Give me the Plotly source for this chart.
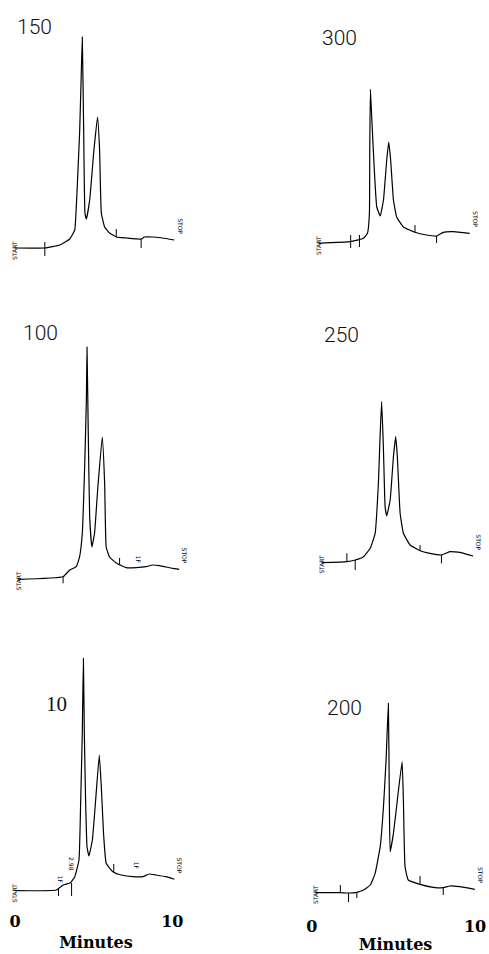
import plotly.graph_objects as go

# ---------------- data (time in minutes, detector signal in arbitrary units) ----------------
t_150 = [0.0, 1.9, 2.85, 3.48, 3.8, 3.92, 4.11, 4.2, 4.28, 4.37, 4.45, 4.54, 4.75, 5.02, 5.25, 5.38, 5.49, 5.7, 6.01, 6.44, 7.09, 8.02, 8.23, 8.73, 9.37, 10.13]
s_150 = [2, 2, 5, 11, 20, 50, 117, 167, 213, 117, 37, 31, 50, 100, 133, 100, 37, 23, 17, 13, 12, 11, 13, 13, 12, 10]

t_300 = [0.24, 2.18, 2.99, 3.23, 3.35, 3.37, 3.41, 3.49, 3.64, 3.8, 4.01, 4.21, 4.41, 4.53, 4.65, 4.82, 5.02, 5.43, 6.14, 6.85, 7.46, 7.87, 8.48, 9.49]
s_300 = [1.7, 3.3, 6.7, 11.7, 32, 95, 155.7, 128, 78, 38, 29, 45, 85, 103, 85, 45, 28, 18, 12.7, 10, 9, 12.7, 13.3, 11.7]

t_100 = [0.2, 3.06, 3.48, 3.9, 4.11, 4.28, 4.43, 4.54, 4.58, 4.66, 4.75, 4.89, 5.06, 5.27, 5.55, 5.7, 5.8, 6.01, 6.44, 7.07, 7.7, 8.34, 8.75, 9.18, 10.02, 10.44]
s_100 = [0.7, 3.3, 10, 13.3, 23.3, 46.7, 113, 180, 233, 147, 63, 33, 47, 93, 143, 97, 33, 23, 17, 12.3, 12.3, 13.3, 15, 14.3, 11.7, 10.7]

t_250 = [0.45, 1.97, 2.48, 2.99, 3.4, 3.7, 3.9, 4.01, 4.1, 4.21, 4.31, 4.41, 4.62, 4.82, 4.96, 5.06, 5.23, 5.43, 5.84, 6.45, 7.05, 7.76, 8.27, 8.88, 9.7]
s_250 = [1.3, 2.3, 4, 7.3, 15.7, 30.7, 80.7, 130.7, 162.3, 114, 57.3, 48, 64, 107.3, 127.3, 107.3, 50.7, 30.7, 19, 13.3, 10.7, 9, 12.3, 11.7, 8]

t_10 = [0.0, 2.64, 3.06, 3.53, 3.8, 4.07, 4.18, 4.28, 4.35, 4.41, 4.49, 4.58, 4.7, 4.92, 5.13, 5.36, 5.49, 5.63, 5.8, 6.22, 6.75, 7.49, 8.12, 8.54, 8.97, 9.6, 10.13]
s_10 = [1.3, 2, 7, 9.3, 15.3, 32, 92, 158.7, 233.7, 158.7, 92, 45.3, 36, 52, 92, 137, 105.3, 58.7, 28.7, 20.3, 17, 15.3, 15.3, 18, 17, 15.3, 12.7]

t_200 = [0.04, 1.57, 2.07, 2.58, 2.99, 3.4, 3.7, 4.01, 4.21, 4.37, 4.51, 4.57, 4.62, 4.82, 5.06, 5.35, 5.43, 5.53, 5.73, 6.45, 7.26, 7.87, 8.27, 8.88, 9.8]
s_200 = [1.3, 1.3, 1, 1.7, 4, 9, 20.7, 47.3, 87.3, 134, 190.7, 94, 42.3, 60.7, 94, 132.3, 94, 27.3, 14, 9.7, 6.7, 6.3, 8, 7.3, 4.7]

# integrator event marks: time, signal low, signal high
ev_150_t = [1.9, 6.44, 8.02]
ev_150_lo = [-6, 13, 2]
ev_150_hi = [8, 21, 11]
ev_300_t = [2.2, 2.74, 6.14, 7.46]
ev_300_lo = [-3, -2, 12.7, 2]
ev_300_hi = [10, 10, 20, 9]
ev_100_t = [3.06, 6.65]
ev_100_lo = [-3.3, 15]
ev_100_hi = [3.3, 22]
ev_250_t = [1.97, 2.48, 6.45, 7.76]
ev_250_lo = [2.3, -6, 13.3, 0.7]
ev_250_hi = [10.7, 4, 19, 9]
ev_10_t = [2.77, 3.6, 6.28]
ev_10_lo = [-4, -4, 20]
ev_10_hi = [4, 9, 28]
ev_200_t = [1.57, 2.07, 2.58, 6.45, 7.87]
ev_200_lo = [1.3, -8, -4, 9.7, -1]
ev_200_hi = [9, 1, 2, 18, 6.3]

panel_labels = ["150", "300", "100", "250", "10", "200"]
x_ticks = [0, 10]
x_tick_text = ["0", "10"]
x_title = "Minutes"

# ---------------- layout geometry (pixels in a 489 x 954 page) ----------------
W, H = 489, 954
panels = [
    # label, t, s, events, column, baseline y px, label x px, label y px, label font
    (panel_labels[0], t_150, s_150, (ev_150_t, ev_150_lo, ev_150_hi), 0, 250, 15, 27, "sans"),
    (panel_labels[1], t_300, s_300, (ev_300_t, ev_300_lo, ev_300_hi), 1, 245, 321, 38, "sans"),
    (panel_labels[2], t_100, s_100, (ev_100_t, ev_100_lo, ev_100_hi), 0, 580, 21, 333, "sans"),
    (panel_labels[3], t_250, s_250, (ev_250_t, ev_250_lo, ev_250_hi), 1, 564, 323, 335, "sans"),
    (panel_labels[4], t_10, s_10, (ev_10_t, ev_10_lo, ev_10_hi), 0, 892, 44, 704, "serif"),
    (panel_labels[5], t_200, s_200, (ev_200_t, ev_200_lo, ev_200_hi), 1, 894, 326, 708, "sans"),
]
# column: (px at t=0, px per minute)
cols = [(15, 15.8), (316, 16.4)]
x_rng = [(-0.5, 10.8), (-0.5, 10.4)]
tick_standoff = [6, 9]
tick_shift = [0, -3]
title_standoff = [6, 6]
y_lo, y_hi = -12, 240

fig = go.Figure()
layout = dict(
    width=W, height=H, margin=dict(l=0, r=0, t=0, b=0),
    paper_bgcolor="white", plot_bgcolor="white", showlegend=False,
)
annotations = []
small = dict(family="DejaVu Sans", size=6, color="black")

for i, (lab, t, s, ev, c, yb, lx, ly, lf) in enumerate(panels):
    n = i + 1
    xa = "x" if n == 1 else f"x{n}"
    ya = "y" if n == 1 else f"y{n}"
    x0, k = cols[c]
    r0, r1 = x_rng[c]
    dom_x = [(x0 + k * r0) / W, min(1.0, (x0 + k * r1) / W)]
    dom_y = [1 - (yb - y_lo) / H, 1 - (yb - y_hi) / H]
    bottom = n in (5, 6)
    layout["xaxis" if n == 1 else f"xaxis{n}"] = dict(
        domain=dom_x, range=[r0, r1], anchor=ya, showgrid=False, zeroline=False,
        showline=False, ticks="",
        showticklabels=bottom, tickvals=x_ticks, ticktext=x_tick_text,
        tickfont=dict(family="DejaVu Serif", size=16, color="black", weight="bold"),
        ticklabelstandoff=tick_standoff[c], ticklabelshift=tick_shift[c],
        title=dict(text=x_title if bottom else "", standoff=title_standoff[c],
                   font=dict(family="DejaVu Serif", size=16, color="black", weight="bold")),
    )
    layout["yaxis" if n == 1 else f"yaxis{n}"] = dict(
        domain=dom_y, range=[y_lo, y_hi], anchor=xa, showgrid=False, zeroline=False,
        showline=False, ticks="", showticklabels=False,
    )
    fig.add_trace(go.Scatter(x=t, y=s, mode="lines", xaxis=xa, yaxis=ya,
                             line=dict(color="black", width=1.2, shape="spline", smoothing=0.35),
                             cliponaxis=False, hoverinfo="skip"))
    et, elo, ehi = ev
    ex, ey = [], []
    for a, b, cc in zip(et, elo, ehi):
        ex += [a, a, None]
        ey += [b, cc, None]
    fig.add_trace(go.Scatter(x=ex, y=ey, mode="lines", xaxis=xa, yaxis=ya,
                             line=dict(color="black", width=1), cliponaxis=False,
                             hoverinfo="skip"))
    # START / STOP integrator marks
    annotations.append(dict(text="START", x=t[0], y=s[0] - 2, xref=xa, yref=ya, showarrow=False,
                            textangle=-90, xanchor="center", yanchor="middle", font=small))
    annotations.append(dict(text="STOP", x=t[-1], y=s[-1] + 4, xref=xa, yref=ya, showarrow=False,
                            textangle=90, xanchor="left", yanchor="bottom", font=small))
    # panel label
    fam = "Liberation Serif" if lf == "serif" else "Roboto"
    annotations.append(dict(text=lab, x=lx / W, y=1 - ly / H, xref="paper", yref="paper",
                            showarrow=False, xanchor="left", yanchor="middle",
                            font=dict(family=fam, size=21, color="#111", weight=300)))

# small integrator codes
annotations.append(dict(text="1F", x=7.91, y=20, xref="x3", yref="y3", showarrow=False,
                        textangle=90, font=small))
annotations.append(dict(text="1F", x=2.95, y=12, xref="x5", yref="y5", showarrow=False,
                        textangle=90, font=small))
annotations.append(dict(text="2.98", x=3.62, y=28, xref="x5", yref="y5", showarrow=False,
                        textangle=90, font=small))
annotations.append(dict(text="1F", x=7.78, y=26, xref="x5", yref="y5", showarrow=False,
                        textangle=90, font=small))

layout["annotations"] = annotations
fig.update_layout(**layout)
fig.write_html("out.html")
